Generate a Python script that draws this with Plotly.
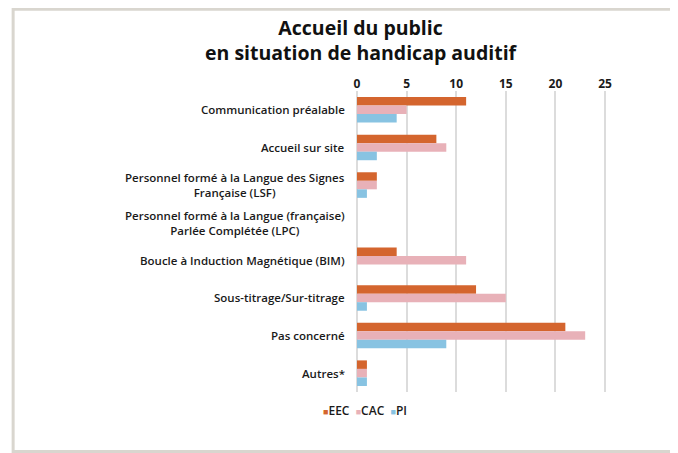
import plotly.graph_objects as go

# Categories and series
categories = [
    "Communication préalable",
    "Accueil sur site",
    "Personnel formé à la Langue des Signes<br>Française (LSF)",
    "Personnel formé à la Langue (française)<br>Parlée Complétée (LPC)",
    "Boucle à Induction Magnétique (BIM)",
    "Sous-titrage/Sur-titrage",
    "Pas concerné",
    "Autres*",
]
eec = [11, 8, 2, 0, 4, 12, 21, 1]
cac = [5, 9, 2, 0, 11, 15, 23, 1]
pi = [4, 2, 1, 0, 0, 1, 9, 1]

series = [("EEC", eec, "#D4652E"), ("CAC", cac, "#E8B1B8"), ("PI", pi, "#88C3E2")]

FONT = "Open Sans"
TXT = "#1a1a1a"

fig = go.Figure()
for name, vals, color in series:
    fig.add_trace(go.Bar(
        y=categories, x=vals, name=name, orientation="h",
        marker=dict(color=color, line=dict(width=0)),
        showlegend=False,
    ))

# category labels, centred multi-line like the original
annotations = [
    dict(x=0, xref="paper", y=c, yref="y", text=c, showarrow=False,
         xanchor="right", align="center", xshift=-10,
         font=dict(family=FONT, size=11.5, color=TXT, weight=600))
    for c in categories
]
annotations.append(dict(
    x=0.016, xref="paper", y=1.0, yref="paper", yshift=51,
    text="Accueil du public<br>en situation de handicap auditif",
    showarrow=False, xanchor="center", yanchor="middle", align="center",
    font=dict(family=FONT, size=19.5, color="#111111", weight=700),
))

# compact legend (small square right before each name)
legend_text = "&nbsp;&nbsp;".join(
    f'<span style="color:{color};font-size:9px">■</span>{name}'
    for name, _, color in series
)
annotations.append(dict(
    x=0.03, xref="paper", y=-0.06, yref="paper", text=legend_text,
    showarrow=False, xanchor="center", yanchor="middle",
    font=dict(family=FONT, size=12, color=TXT, weight=600),
))

# the page adds an 8px body margin, so the figure is sized to fit the window
fig.update_layout(
    width=670, height=445,
    margin=dict(l=349, r=70, t=83, b=61),
    paper_bgcolor="white", plot_bgcolor="white",
    barmode="group", bargap=0.32, bargroupgap=0,
    xaxis=dict(side="top", range=[0, 25.3], tickvals=[0, 5, 10, 15, 20, 25],
               showgrid=True, gridcolor="#dcdcdc", gridwidth=1.5,
               zeroline=True, zerolinecolor="#dcdcdc", zerolinewidth=1.5,
               showline=False, ticks="",
               tickfont=dict(family=FONT, size=12, color=TXT, weight=700)),
    yaxis=dict(autorange="reversed", showticklabels=False, showgrid=False,
               ticks="", showline=False),
    annotations=annotations,
    shapes=[dict(type="rect", xref="paper", yref="paper",
                 x0=-1.37, x1=1.5, y0=-0.198, y1=1.272,
                 line=dict(color="#d9d6cf", width=3), layer="below")],
)

fig.write_html("out.html")
